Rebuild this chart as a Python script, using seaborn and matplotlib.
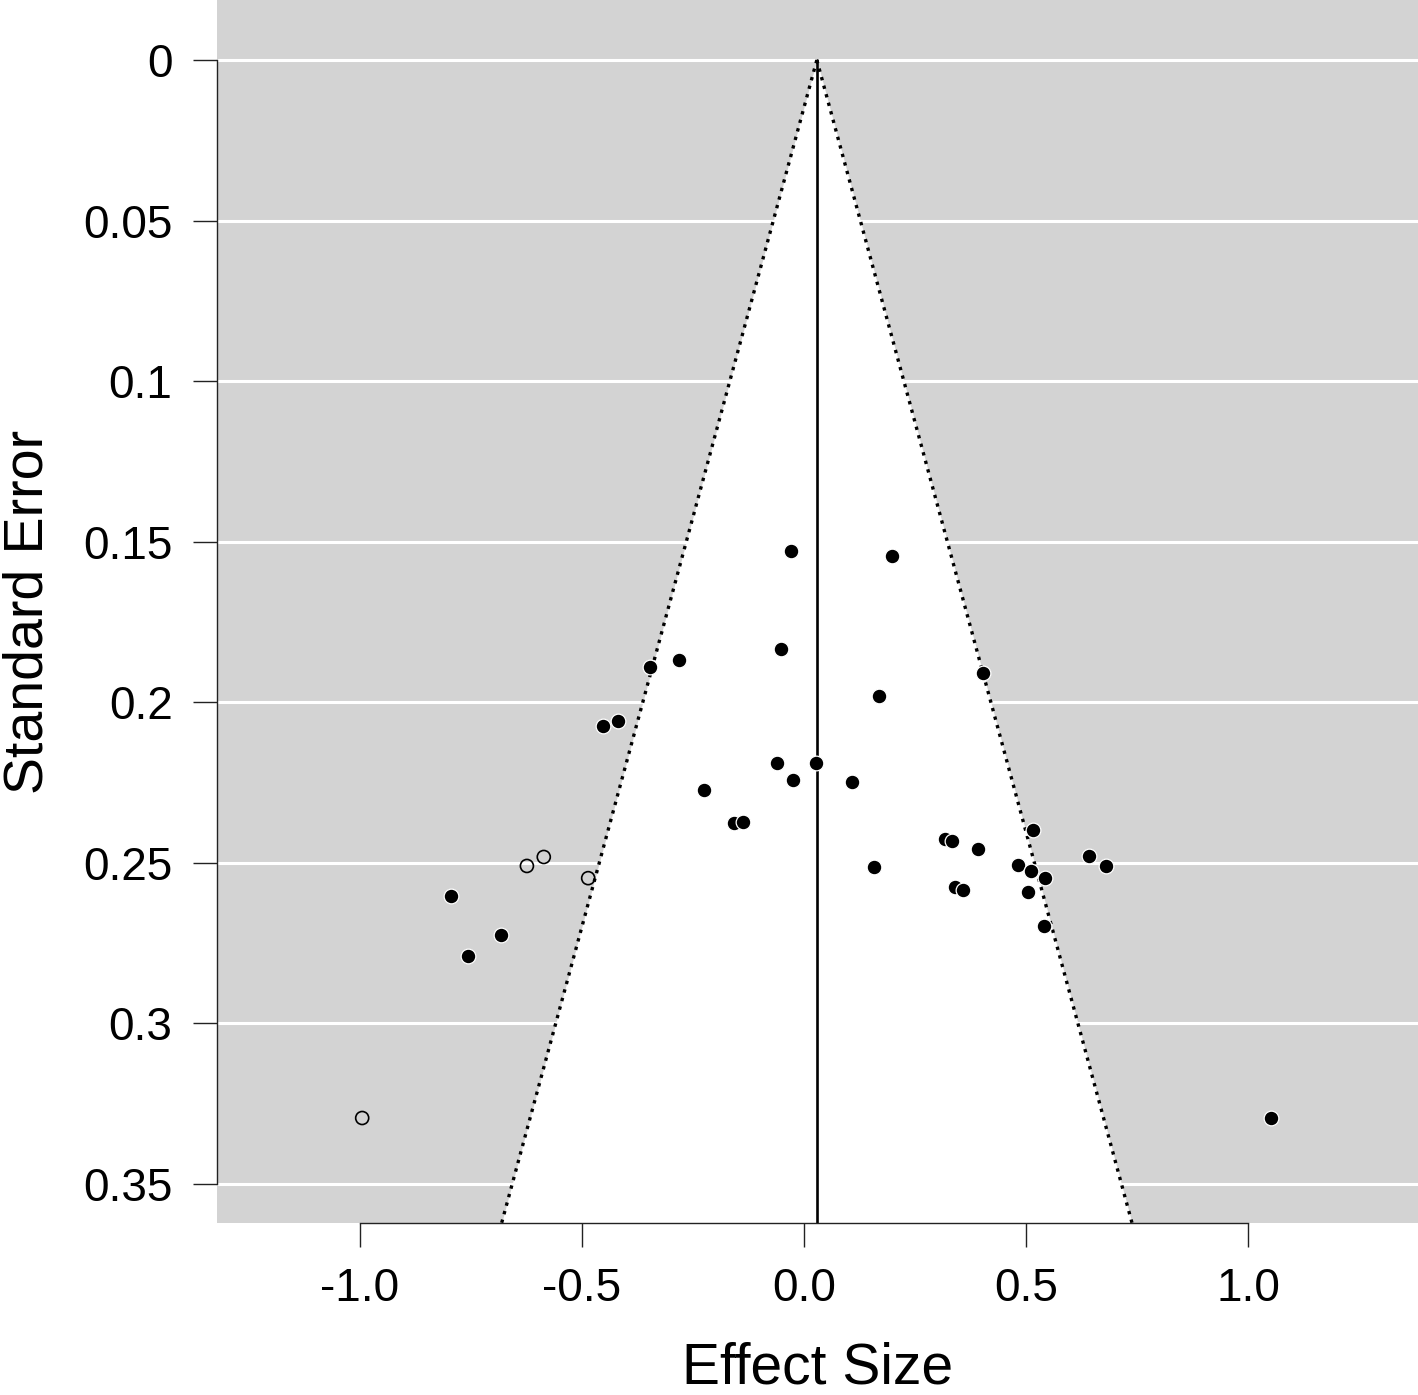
import numpy as np
import pandas as pd
import matplotlib
matplotlib.use("Agg")
import matplotlib.pyplot as plt
import seaborn as sns

# --- observed studies (effect size, standard error) ---
obs_es = [-0.029, 0.198, -0.347, -0.282, -0.052, 0.403, 0.169, -0.453, -0.419,
          -0.061, -0.025, 0.027, 0.108, -0.225, -0.158, -0.137, 0.318, 0.333,
          0.392, 0.516, 0.158, 0.482, 0.511, 0.543, 0.642, 0.680, 0.340, 0.358,
          0.505, 0.541, -0.795, -0.682, -0.757, 1.052]
obs_se = [0.1529, 0.1545, 0.1890, 0.1869, 0.1834, 0.1909, 0.1981, 0.2074, 0.2059,
          0.2189, 0.2242, 0.2189, 0.2249, 0.2273, 0.2376, 0.2373, 0.2426, 0.2432,
          0.2457, 0.2398, 0.2513, 0.2507, 0.2526, 0.2548, 0.2479, 0.2510, 0.2576,
          0.2585, 0.2591, 0.2697, 0.2604, 0.2725, 0.2790, 0.3295]

# --- trim-and-fill imputed studies ---
fill_es = [-0.624, -0.586, -0.486, -0.995]
fill_se = [0.2510, 0.2482, 0.2548, 0.3295]

center = 0.029          # pooled estimate
x_ticks = [-1.0, -0.5, 0.0, 0.5, 1.0]
y_ticks = [0, 0.05, 0.1, 0.15, 0.2, 0.25, 0.3, 0.35]
y_tick_labels = ["0", "0.05", "0.1", "0.15", "0.2", "0.25", "0.3", "0.35"]

obs = pd.DataFrame({"es": obs_es, "se": obs_se})
fill = pd.DataFrame({"es": fill_es, "se": fill_se})

sns.set_style("white", {"axes.facecolor": "#d3d3d3"})
plt.rcParams["font.family"] = ["Liberation Sans", "DejaVu Sans"]
plt.rcParams.update({"text.color": "black", "axes.labelcolor": "black",
                     "xtick.color": "black", "ytick.color": "black"})

fig = plt.figure(figsize=(14.18, 13.95), dpi=100)
ax = fig.add_axes([217 / 1418, 1 - 1223 / 1395, 1 - 217 / 1418, 1223 / 1395])

xlim = (-1.322, 1.383)
ylim_bottom = 0.3622
ax.set_xlim(*xlim)
ax.set_ylim(ylim_bottom, -0.0187)

# white horizontal grid lines on the grey background
for yt in y_ticks:
    ax.axhline(yt, color="white", lw=2.2, zorder=0.5)

# funnel region (pseudo 95% CI)
se_line = np.array([0, ylim_bottom])
lo = center - 1.96 * se_line
hi = center + 1.96 * se_line
ax.fill_betweenx(se_line, lo, hi, color="white", lw=0, zorder=1)
ax.plot(lo, se_line, color="black", ls=":", lw=2.4, zorder=2)
ax.plot(hi, se_line, color="black", ls=":", lw=2.4, zorder=2)
ax.plot([center, center], se_line, color="black", lw=1.9, zorder=2)

sns.scatterplot(data=obs, x="es", y="se", ax=ax, color="black", s=112,
                edgecolor="white", linewidth=0.9, zorder=3, legend=False)
sns.scatterplot(data=fill, x="es", y="se", ax=ax, facecolor="none", s=88,
                edgecolor="black", linewidth=1.2, zorder=3, legend=False)

ax.set_xticks(x_ticks)
ax.set_xticklabels([f"{t:.1f}" for t in x_ticks])
ax.set_yticks(y_ticks)
ax.set_yticklabels(y_tick_labels)
ax.tick_params(axis="both", which="major", length=17, width=1.0, color="#222222",
               labelsize=33, pad=15, direction="out", left=True, bottom=True)

for side in ["top", "right"]:
    ax.spines[side].set_visible(False)
ax.spines["left"].set_bounds(0, 0.35)
ax.spines["bottom"].set_bounds(-1.0, 1.0)
for side in ["left", "bottom"]:
    ax.spines[side].set_color("#222222")
    ax.spines[side].set_linewidth(1.0)

ax.set_xlabel("Effect Size", fontsize=41, labelpad=22)
ax.set_ylabel("Standard Error", fontsize=40, labelpad=21)

plt.savefig("out.png", dpi=100)
